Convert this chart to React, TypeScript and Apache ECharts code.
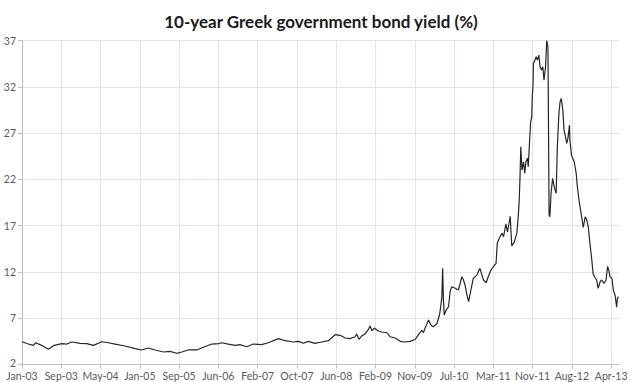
import React, { useEffect, useRef } from "react";
import * as echarts from "echarts";

const titleText = "10-year Greek government bond yield (%)";

const tickLabels = [
  "Jan-03", "Sep-03", "May-04", "Jan-05", "Sep-05", "Jun-06", "Feb-07", "Oct-07",
  "Jun-08", "Feb-09", "Nov-09", "Jul-10", "Mar-11", "Nov-11", "Aug-12", "Apr-13",
];

// position along the axis, in tenths of a tick interval (tick i sits at 10*i)
const periods = [
  0, 1.6, 2.9, 3.5, 5.0, 6.7, 8.2, 10.1, 11.4, 12.7, 14.8, 16.5, 18.2, 20.3, 22.0, 23.7,
  26.2, 28.8, 30.5, 32.2, 33.9, 36.0, 37.7, 39.4, 40.7, 42.3, 44.5, 46.2, 48.3, 50.0, 50.9,
  52.5, 54.2, 55.5, 57.2, 58.9, 61.0, 62.7, 65.3, 67.0, 69.1, 70.4, 71.6, 72.9, 74.6, 76.3,
  78.0, 79.7, 81.0, 82.3, 83.5, 84.8, 85.2, 85.8, 86.5, 87.3, 88.2, 88.6, 89.1, 89.7, 90.6,
  91.6, 92.9, 93.7, 95.0, 96.3, 97.5, 98.8, 100.1, 100.9, 101.8, 102.2, 102.9, 103.5, 104.1,
  104.7, 105.6, 106.3, 106.6, 106.9, 107.1, 107.3, 107.5, 108.0, 108.6, 109.0, 109.4, 110.3,
  111.1, 112.0, 112.4, 112.8, 113.2, 113.7, 114.3, 114.9, 115.8, 116.6, 117.1, 117.5, 118.2,
  118.7, 119.4, 120.0, 120.7, 121.0, 121.5, 122.2, 122.6, 123.2, 123.6, 124.1, 124.3, 124.7,
  125.3, 126.0, 126.4, 126.6, 126.8, 127.0, 127.3, 127.7, 128.0, 128.3, 128.7, 128.9, 129.2,
  129.5, 129.8, 129.9, 130.1, 130.2, 130.6, 130.9, 131.2, 131.6, 131.9, 132.3, 132.6, 132.9,
  133.3, 133.6, 133.9, 134.0, 134.2, 134.4, 134.7, 135.1, 135.6, 136.0, 136.3, 136.7, 137.0,
  137.3, 137.7, 138.0, 138.4, 138.7, 139.0, 139.4, 139.5, 139.9, 140.2, 140.6, 141.1, 141.4,
  141.9, 142.4, 142.9, 143.4, 143.8, 144.2, 144.6, 145.1, 145.4, 145.9, 146.3, 146.7, 147.2,
  147.6, 148.2, 148.7, 149.1, 149.4, 149.7, 150.2, 150.6, 151.0, 151.4, 151.6, 151.9,
];

const yields = [
  4.46, 4.21, 4.07, 4.35, 4.07, 3.64, 4.07, 4.25, 4.21, 4.43, 4.29, 4.25, 4.07, 4.46, 4.35, 4.21,
  4.0, 3.71, 3.57, 3.78, 3.57, 3.35, 3.42, 3.21, 3.35, 3.57, 3.57, 3.86, 4.21, 4.25, 4.35,
  4.21, 4.07, 4.14, 3.92, 4.21, 4.14, 4.35, 4.79, 4.57, 4.43, 4.5, 4.29, 4.5, 4.29, 4.43,
  4.57, 5.22, 5.15, 4.86, 4.79, 5.0, 5.29, 4.72, 5.08, 5.29, 5.8, 6.16, 5.65, 5.94, 5.65,
  5.51, 5.43, 5.0, 4.86, 4.5, 4.43, 4.5, 4.7, 5.2, 5.7, 5.45, 6.2, 6.8, 6.27,
  6.08, 6.37, 7.35, 8.24, 9.32, 12.39, 8.97, 7.35, 7.89, 8.24, 9.86, 10.4, 10.23,
  10.05, 11.48, 11.13, 10.59, 9.69, 8.78, 10.05, 11.3, 11.66, 12.39, 11.66, 11.13, 10.83,
  11.48, 12.2, 12.56, 12.93, 15.09, 15.63, 16.17, 15.8, 17.2, 16.3, 17.5, 18.0, 14.8,
  15.2, 16.2, 18.3, 19.8, 22.28, 25.52, 23.0, 23.9, 22.65, 23.9, 24.27, 23.36, 25.88,
  28.22, 28.76, 30.92, 32.0, 34.53, 34.88, 35.24, 34.88, 35.42, 34.16, 33.8, 34.16, 32.72,
  34.16, 37.0, 36.32, 30.92, 18.15, 17.96, 20.49, 22.1, 21.03, 20.49, 25.52, 29.12, 30.38,
  30.74, 29.48, 27.32, 26.6, 25.88, 26.42, 27.86, 26.24, 24.62, 24.27, 23.9, 22.65, 21.2,
  19.5, 18.2, 16.8, 17.96, 17.6, 16.8, 15.09, 13.2, 11.8, 11.4, 11.13, 10.23, 10.94,
  11.13, 10.77, 11.13, 12.6, 12.2, 11.48, 11.3, 9.95, 9.51, 8.2, 9.15, 9.32,
];

const yMin = 2;
const yMax = 37;
const yStep = 5;

export default function App() {
  const ref = useRef<HTMLDivElement>(null);

  useEffect(() => {
    if (!ref.current) return;
    const chart = echarts.init(ref.current, null, { renderer: "svg" });
    const font = "Lato, 'Liberation Sans', sans-serif";
    const gridColor = "#e3e3ee";
    // one colour per vertical split line (ticks 0..150 plus the axis end);
    // the axis end gets no visible line, as in the reference
    const vLineColors = tickLabels.map(() => gridColor).concat(["rgba(0,0,0,0)"]);
    chart.setOption({
      animation: false,
      backgroundColor: "#ffffff",
      title: {
        text: titleText,
        left: "center",
        top: 8,
        textStyle: { fontFamily: font, fontSize: 17, fontWeight: "bold", color: "#1a1a1a" },
      },
      grid: { left: 22, right: 23, top: 40.5, bottom: 17.5 },
      xAxis: {
        type: "value",
        min: 0,
        max: 152,
        interval: 10,
        axisLine: { show: true, lineStyle: { color: "#bfbfbf", width: 1 } },
        axisTick: { show: true, length: 4, lineStyle: { color: "#bfbfbf" } },
        axisLabel: {
          fontFamily: font,
          fontSize: 10.5,
          lineHeight: 10,
          color: "#595959",
          margin: 6,
          showMaxLabel: false,
          formatter: (v: number) => {
            const i = Math.round(v / 10);
            return Math.abs(v - i * 10) < 1e-6 && tickLabels[i] ? tickLabels[i] : "";
          },
        },
        splitLine: { show: true, lineStyle: { color: vLineColors, width: 1 } },
      },
      yAxis: {
        type: "value",
        min: yMin,
        max: yMax,
        interval: yStep,
        axisLine: { show: true, lineStyle: { color: "#bfbfbf", width: 1 } },
        axisTick: { show: true, length: 4, lineStyle: { color: "#bfbfbf" } },
        axisLabel: {
          fontFamily: font,
          fontSize: 10.5,
          lineHeight: 9,
          color: "#595959",
          margin: 6,
          formatter: (v: number) => (v === yMin ? `{lo|${v}}` : `${v}`),
          rich: {
            lo: {
              fontFamily: font,
              fontSize: 10.5,
              lineHeight: 9,
              color: "#595959",
              padding: [0, 0, 4, 0],
            },
          },
        },
        splitLine: { show: true, lineStyle: { color: gridColor, width: 1 } },
      },
      series: [
        {
          type: "line",
          data: periods.map((p, i) => [p, yields[i]]),
          showSymbol: false,
          symbol: "none",
          lineStyle: { color: "#262626", width: 1.2 },
        },
      ],
    });
    return () => chart.dispose();
  }, []);

  return (
    <div
      ref={ref}
      style={{ position: "fixed", left: 0, top: 0, width: 642, height: 382, background: "#fff" }}
    />
  );
}
